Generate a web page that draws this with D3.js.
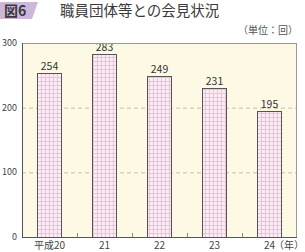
<!DOCTYPE html>
<html>
<head>
<meta charset="utf-8">
<script src="https://cdn.jsdelivr.net/npm/d3@7"></script>
<style>
  body { margin: 0; background: #fff; }
  text { font-family: "Noto Sans CJK JP", "Noto Sans", sans-serif; }
</style>
</head>
<body>
<svg class="chart"></svg>
<script>
const years = ['平成20', '21', '22', '23', '24'];
const counts = [254, 283, 249, 231, 195];
const yTicks = [0, 100, 200, 300];

const width = 305;
const height = 252;
const margin = { top: 43, right: 8, bottom: 15, left: 22 };

const svg = d3.select('.chart')
  .attr('width', width)
  .attr('height', height);

// plaid fill for bars
const defs = svg.append('defs');
const pat = defs.append('pattern')
  .attr('id', 'plaid')
  .attr('patternUnits', 'userSpaceOnUse')
  .attr('width', 4)
  .attr('height', 4);
pat.append('rect').attr('width', 4).attr('height', 4).attr('fill', '#fdeef5');
pat.append('rect').attr('x', 1).attr('width', 1).attr('height', 4).attr('fill', '#f7bcd8');
pat.append('rect').attr('y', 1).attr('width', 4).attr('height', 1).attr('fill', '#f7bcd8');

// header
svg.append('path')
  .attr('d', 'M0,2 H38 L32,19 H0 Z')
  .attr('fill', '#cdb8dc');
svg.append('text')
  .attr('x', 4)
  .attr('y', 16)
  .attr('font-size', 14)
  .attr('font-weight', 'bold')
  .attr('fill', '#3a3a3a')
  .text('図6');
svg.append('text')
  .attr('x', 60)
  .attr('y', 16)
  .attr('font-size', 14.5)
  .attr('fill', '#3a3a3a')
  .text('職員団体等との会見状況');
svg.append('text')
  .attr('x', 298)
  .attr('y', 34)
  .attr('text-anchor', 'end')
  .attr('font-size', 10)
  .attr('fill', '#555')
  .text('（単位：回）');

const x = d3.scaleBand()
  .domain(years)
  .range([margin.left, width - margin.right])
  .paddingInner(0.56)
  .paddingOuter(0.28);

const y = d3.scaleLinear()
  .domain([0, 300])
  .range([height - margin.bottom, margin.top]);

const plotW = width - margin.right - margin.left;
const plotH = y(0) - y(300);

svg.append('rect')
  .attr('x', margin.left)
  .attr('y', y(300))
  .attr('width', plotW)
  .attr('height', plotH)
  .attr('fill', '#fdf9e4');

// dashed grid
svg.append('g').selectAll('line')
  .data([100, 200])
  .enter()
  .append('line')
  .attr('x1', margin.left)
  .attr('x2', width - margin.right)
  .attr('y1', d => y(d) + 0.5)
  .attr('y2', d => y(d) + 0.5)
  .attr('stroke', '#c8bca0')
  .attr('stroke-dasharray', '4,3');

// bars
svg.append('g').selectAll('rect')
  .data(counts)
  .enter()
  .append('rect')
  .attr('x', (d, i) => Math.round(x(years[i])) + 0.5)
  .attr('y', d => Math.round(y(d)) + 0.5)
  .attr('width', Math.round(x.bandwidth()))
  .attr('height', d => Math.round(y(0)) - Math.round(y(d)))
  .attr('fill', 'url(#plaid)')
  .attr('stroke', '#555')
  .attr('stroke-width', 1);

svg.append('g').selectAll('text')
  .data(counts)
  .enter()
  .append('text')
  .attr('x', (d, i) => x(years[i]) + x.bandwidth() / 2)
  .attr('y', d => y(d) - 3)
  .attr('text-anchor', 'middle')
  .attr('font-size', 10.5)
  .attr('fill', '#333')
  .text(d => d);

// frame
svg.append('rect')
  .attr('x', margin.left + 0.5)
  .attr('y', y(300) + 0.5)
  .attr('width', plotW - 1)
  .attr('height', plotH)
  .attr('fill', 'none')
  .attr('stroke', '#999');
svg.append('line')
  .attr('x1', margin.left)
  .attr('x2', width - margin.right)
  .attr('y1', y(0) + 0.5)
  .attr('y2', y(0) + 0.5)
  .attr('stroke', '#555');
svg.append('line')
  .attr('x1', margin.left + 0.5)
  .attr('x2', margin.left + 0.5)
  .attr('y1', y(300))
  .attr('y2', y(0))
  .attr('stroke', '#555');

// small ticks between categories
const step = x.step();
svg.append('g').selectAll('line')
  .data(years.slice(1))
  .enter()
  .append('line')
  .attr('x1', d => Math.round(x(d) - (step - x.bandwidth()) / 2) + 0.5)
  .attr('x2', d => Math.round(x(d) - (step - x.bandwidth()) / 2) + 0.5)
  .attr('y1', y(0) - 4)
  .attr('y2', y(0))
  .attr('stroke', '#888');

// y labels
svg.append('g').selectAll('text')
  .data(yTicks)
  .enter()
  .append('text')
  .attr('x', 17)
  .attr('y', d => y(d) + 3)
  .attr('text-anchor', 'end')
  .attr('font-size', 9)
  .attr('fill', '#444')
  .text(d => d);

// x labels
svg.append('g').selectAll('text')
  .data(years)
  .enter()
  .append('text')
  .attr('x', d => x(d) + x.bandwidth() / 2)
  .attr('y', height - 3)
  .attr('text-anchor', 'middle')
  .attr('font-size', 10)
  .attr('fill', '#444')
  .text(d => d);
svg.append('text')
  .attr('x', 304)
  .attr('y', height - 3)
  .attr('text-anchor', 'end')
  .attr('font-size', 10)
  .attr('fill', '#444')
  .text('（年）');
</script>
</body>
</html>
